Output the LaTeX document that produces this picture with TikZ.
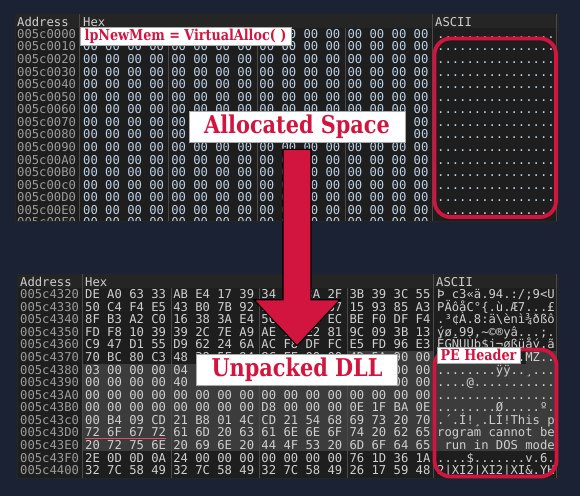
\documentclass[tikz,border=0pt]{standalone}
\usepackage{fontspec}
\usetikzlibrary{positioning, calc}
\newfontfamily\hexfont{DejaVu Sans Mono}
\newfontfamily\slabfont[FakeStretch=0.85]{DejaVu Serif}
\frenchspacing
\definecolor{navybg}{HTML}{1B2233}
\definecolor{panelgray}{HTML}{1E1E1E}
\definecolor{headgray}{HTML}{252526}
\definecolor{sepgray}{HTML}{4A4A4A}
\definecolor{hilite}{HTML}{3C3C3C}
\definecolor{addrgray}{HTML}{9C9C9C}
\definecolor{hextop}{HTML}{BCD0E4}
\definecolor{hexbot}{HTML}{CFCFCF}
\definecolor{crimson}{HTML}{D2153F}
\definecolor{tagedge}{HTML}{A8A8A8}
\tikzstyle{hexrow} = [anchor=base west, inner sep=0, font={\hexfont\fontsize{12.2}{14}\selectfont}]
\tikzstyle{addr} = [hexrow, text=addrgray]
\tikzstyle{colhead} = [hexrow, text=hexbot]
\tikzstyle{panel} = [fill=panelgray, draw=black!85, line width=0.8pt]
\tikzstyle{sep} = [draw=sepgray, line width=0.8pt]
\tikzstyle{tag} = [rectangle, fill=white, draw=tagedge, line width=0.6pt, inner sep=0, text=crimson, text centered]
\tikzstyle{redbox} = [draw=crimson, line width=3.8pt, rounded corners=16pt]
\tikzstyle{bigarrow} = [fill=crimson, draw=black, line width=1.1pt, line join=miter]

\begin{document}
\begin{tikzpicture}[x=1pt, y=-1pt]
		\useasboundingbox (0,0) rectangle (580,496);
		\fill[navybg] (0,0) rectangle (580,496);
		
		%upper dump, fresh allocation
		\draw[panel] (15,14) rectangle (558,221);
		\fill[headgray] (15.4,14.4) rectangle (557.6,28);
		\foreach \x in {79,432,556} \draw[sep] (\x,14.4) -- (\x,220.6);
		\foreach \x in {168,257,345} \draw[sep] (\x,28) -- (\x,220.6);
		\node[colhead] (topaddrhead) at (17,26.5) {Address};
		\node[colhead] (tophexhead) at (83,26.5) {Hex};
		\node[colhead] (topaschead) at (435,26.5) {ASCII};
		\begin{scope}
			\clip (15,28) rectangle (558,220.6);
			\foreach \a [count=\i from 0] in {0,1,2,3,4,5,6,7,8,9,A,B,c,D,E,F} {
				\node[addr] (topaddr\i) at (17,{38.4+12.57*\i}) {005c00\a0};
				\node[hexrow, text=hextop] (tophex\i) at (83,{38.4+12.57*\i}) {00 00 00 00 00 00 00 00 00 00 00 00 00 00 00 00};
				\node[hexrow, text=hextop] (topasc\i) at (437,{38.4+12.57*\i}) {................};
			}
		\end{scope}
		
		%lower dump, after unpacking
		\draw[panel] (17,274) rectangle (558,478);
		\fill[headgray] (17.4,274.4) rectangle (557.6,288);
		\fill[hilite] (347,350.9) rectangle (433,363.5);
		\fill[hilite] (526,350.9) rectangle (556,363.5);
		\fill[hilite] (82,363.5) rectangle (556,451.4);
		\foreach \x in {82,433,556} \draw[sep] (\x,274.4) -- (\x,477.6);
		\foreach \x in {171,259,347} \draw[sep] (\x,288) -- (\x,477.6);
		\node[colhead] (botaddrhead) at (20,286.5) {Address};
		\node[colhead] (bothexhead) at (85,286.5) {Hex};
		\node[colhead] (botaschead) at (436,286.5) {ASCII};
		\begin{scope}
			\clip (17,288) rectangle (558,477.6);
			\foreach \adr/\hx/\asc [count=\i from 0] in {
				4320/{DE A0 63 33 AB E4 17 39 34 1F 3A 2F 3B 39 3C 55}/{Þ c3«ä.94.:/;9<U},
				4330/{50 C4 F4 E5 43 B0 7B 92 F9 0B C6 37 15 93 85 A3}/{PÄôåC°\{.ù.Æ7...£},
				4340/{8F B3 A2 C0 16 38 3A E4 5C E8 6E EC BE F0 DF F4}/{.³¢À.8:ä\textbackslash ènì¾ðßô},
				4350/{FD F8 10 39 39 2C 7E A9 AE 79 E2 81 9C 09 3B 13}/{ýø.99,\textasciitilde ©®yâ...;.},
				4360/{C9 47 D1 55 D9 62 24 6A AC F8 DF FC E5 FD 96 E3}/{ÉGÑUÙb\$j¬øßüåý.ã},
				4370/{70 BC 80 C3 48 39 5F 94 8C FE 00 00 4D 5A 90 00}/{p¼.ÃH9\_..þ..MZ..},
				4380/{03 00 00 00 04 00 00 00 FF FF 00 00 B8 00 00 00}/{........ÿÿ..¸...},
				4390/{00 00 00 00 40 00 00 00 00 00 00 00 00 00 00 00}/{....@...........},
				43A0/{00 00 00 00 00 00 00 00 00 00 00 00 00 00 00 00}/{................},
				43B0/{00 00 00 00 00 00 00 00 D8 00 00 00 0E 1F BA 0E}/{........Ø.....º.},
				43c0/{00 B4 09 CD 21 B8 01 4C CD 21 54 68 69 73 20 70}/{.´.Í!¸.LÍ!This p},
				43D0/{72 6F 67 72 61 6D 20 63 61 6E 6E 6F 74 20 62 65}/{rogram cannot be},
				43E0/{20 72 75 6E 20 69 6E 20 44 4F 53 20 6D 6F 64 65}/{\ run in DOS mode},
				43F0/{2E 0D 0D 0A 24 00 00 00 00 00 00 00 76 1D 36 1A}/{....\$.......v.6.},
				4400/{32 7C 58 49 32 7C 58 49 32 7C 58 49 26 17 59 48}/{2|XI2|XI2|XI\&.YH},
				4410/{31 7D 58 49 33 7C 58 49 31 7C 58 49 33 8F 5F 48}/{1\}XI3|XI1|XI3.\_H}} {
				\node[addr] (botaddr\i) at (20,{298.7+12.57*\i}) {005c\adr};
				\node[hexrow, text=hexbot] (bothex\i) at (85,{298.7+12.57*\i}) {\hx};
				\node[hexrow, text=hexbot] (botasc\i) at (437,{298.7+12.57*\i}) {\asc};
			}
		\end{scope}
		\draw[crimson!75!white, line width=1.2pt] (bothex11.base west) ++(0,1.8) -- +(81,0);
		
		%highlight frames
		\draw[redbox] (434.5,38.5) rectangle (556,217);
		\draw[redbox] (434.5,349.5) rectangle (556.5,476.5);
		
		%labels
		\node[tag, minimum width=211, minimum height=18, font={\slabfont\bfseries\fontsize{15}{15}\selectfont}] (valloc) at (185.5,36) {lpNewMem = VirtualAlloc( )};
		\node[tag, minimum width=216, minimum height=31, font={\slabfont\bfseries\fontsize{24.5}{24.5}\selectfont}] (alloc) at (297,126.5) {Allocated Space};
		\node[tag, minimum width=201, minimum height=31, font={\slabfont\bfseries\fontsize{24.5}{24.5}\selectfont}] (unpack) at (297,369.5) {Unpacked DLL};
		\node[tag, minimum width=83, minimum height=16, font={\slabfont\bfseries\fontsize{15}{15}\selectfont}] (peheader) at (478.5,355) {PE Header};
		
		%big arrow between the labels
		\coordinate (arrtop) at ($(alloc.south)+(0,7)$);
		\coordinate (arrtip) at ($(unpack.north)+(0,-8)$);
		\draw[bigarrow] ($(arrtop)+(-14,0)$) -- ($(arrtop)+(14,0)$) -- ($(arrtip)+(14,-46)$) -- ($(arrtip)+(43,-46)$) -- (arrtip) -- ($(arrtip)+(-43,-46)$) -- ($(arrtip)+(-14,-46)$) -- cycle;
	\end{tikzpicture}
\end{document}
